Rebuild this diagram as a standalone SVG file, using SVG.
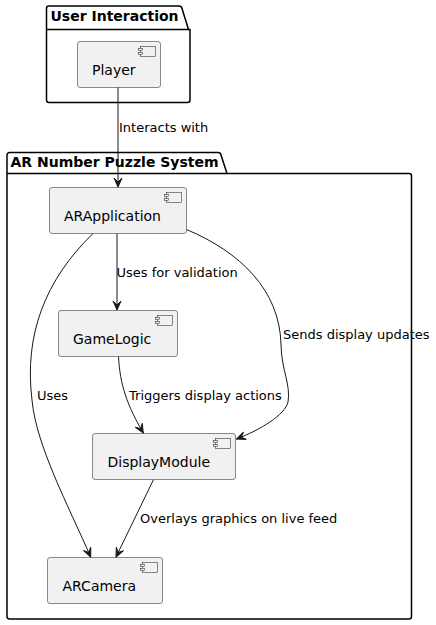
<svg xmlns="http://www.w3.org/2000/svg" width="436" height="625" viewBox="0 0 436 625">
<defs>
<style>
.pkg{fill:none;stroke:#000;stroke-width:1.5}
.ptitle{font-family:"DejaVu Sans",Verdana,sans-serif;font-size:14px;font-weight:bold;fill:#000}
.box{fill:#F1F1F1;stroke:#181818;stroke-width:0.5}
.ico{fill:#F1F1F1;stroke:#181818;stroke-width:0.5}
.name{font-family:"DejaVu Sans",Verdana,sans-serif;font-size:14px;fill:#000}
.edge{fill:none;stroke:#181818;stroke-width:1}
.lbl{font-family:"DejaVu Sans",Verdana,sans-serif;font-size:13px;fill:#000}
</style>
<marker id="arr" viewBox="-10 -5 11 10" refX="0" refY="0" markerWidth="11" markerHeight="10" markerUnits="userSpaceOnUse" orient="auto">
<path d="M0,0 L-9,-4 L-5,0 L-9,4 Z" fill="#181818" stroke="#181818" stroke-width="1"/>
</marker>
</defs>
<rect width="436" height="625" fill="#fff"/>
<g id="pkg-user">
<path class="pkg" d="M49,6 L179,6 A3,3 0 0 1 182,8.5 L188.5,29.5 L190,29.5 L190,100 A2.5,2.5 0 0 1 187.5,102.5 L49,102.5 A2.5,2.5 0 0 1 46.5,100 L46.5,8.5 A2.5,2.5 0 0 1 49,6 Z"/>
<line class="pkg" x1="46.5" y1="29.5" x2="188.5" y2="29.5"/>
<text class="ptitle" x="50.5" y="20.5">User Interaction</text>
</g>
<g id="pkg-ar">
<path class="pkg" d="M9.5,152.5 L218,152.5 A3,3 0 0 1 221,155 L227,173.5 L409,173.5 A2.5,2.5 0 0 1 411.5,176 L411.5,616.5 A2.5,2.5 0 0 1 409,619 L9.5,619 A2.5,2.5 0 0 1 7,616.5 L7,155 A2.5,2.5 0 0 1 9.5,152.5 Z"/>
<line class="pkg" x1="7" y1="173.5" x2="227" y2="173.5"/>
<text class="ptitle" x="10.5" y="166.5">AR Number Puzzle System</text>
</g>
<g id="connectors">
<path class="edge" marker-end="url(#arr)" d="M118,87 L118,187"/>
<path class="edge" marker-end="url(#arr)" d="M117,233.5 L117,310"/>
<path class="edge" marker-end="url(#arr)" d="M186.5,229.5 C240,252 280,290 281,345 C281.5,370 291,385 288,402 C285,415 260,430 236.5,439"/>
<path class="edge" marker-end="url(#arr)" d="M93,233.5 C45,280 24,335 32,400 C36,445 68,505 90.7,557"/>
<path class="edge" marker-end="url(#arr)" d="M118.5,356.5 C120,385 127,405 143.3,433"/>
<path class="edge" marker-end="url(#arr)" d="M153.3,480 L116,557"/>
<text class="lbl" x="119" y="132">Interacts with</text>
<text class="lbl" x="116.5" y="277">Uses for validation</text>
<text class="lbl" x="283" y="338.5">Sends display updates</text>
<text class="lbl" x="37" y="400">Uses</text>
<text class="lbl" x="129" y="400">Triggers display actions</text>
<text class="lbl" x="140" y="522.5">Overlays graphics on live feed</text>
</g>
<g id="Player">
<rect class="box" x="77.5" y="41.5" width="83" height="46" rx="2.5"/>
<rect class="ico" x="140.5" y="46.5" width="15" height="10"/>
<rect class="ico" x="138.5" y="48.5" width="4" height="2"/>
<rect class="ico" x="138.5" y="52.5" width="4" height="2"/>
<text class="name" x="92" y="74.5">Player</text>
</g>
<g id="ARApplication">
<rect class="box" x="49.5" y="187.5" width="137" height="46" rx="2.5"/>
<rect class="ico" x="166.5" y="192.5" width="15" height="10"/>
<rect class="ico" x="164.5" y="194.5" width="4" height="2"/>
<rect class="ico" x="164.5" y="198.5" width="4" height="2"/>
<text class="name" x="64" y="220.5">ARApplication</text>
</g>
<g id="GameLogic">
<rect class="box" x="58.5" y="310.5" width="119" height="46" rx="2.5"/>
<rect class="ico" x="157.5" y="315.5" width="15" height="10"/>
<rect class="ico" x="155.5" y="317.5" width="4" height="2"/>
<rect class="ico" x="155.5" y="321.5" width="4" height="2"/>
<text class="name" x="73" y="343.5">GameLogic</text>
</g>
<g id="DisplayModule">
<rect class="box" x="92.5" y="433.5" width="143" height="46" rx="2.5"/>
<rect class="ico" x="215.5" y="438.5" width="15" height="10"/>
<rect class="ico" x="213.5" y="440.5" width="4" height="2"/>
<rect class="ico" x="213.5" y="444.5" width="4" height="2"/>
<text class="name" x="107.5" y="466.5">DisplayModule</text>
</g>
<g id="ARCamera">
<rect class="box" x="47.5" y="557.5" width="115" height="46" rx="2.5"/>
<rect class="ico" x="142.5" y="562.5" width="15" height="10"/>
<rect class="ico" x="140.5" y="564.5" width="4" height="2"/>
<rect class="ico" x="140.5" y="568.5" width="4" height="2"/>
<text class="name" x="62.5" y="590.5">ARCamera</text>
</g>
</svg>
